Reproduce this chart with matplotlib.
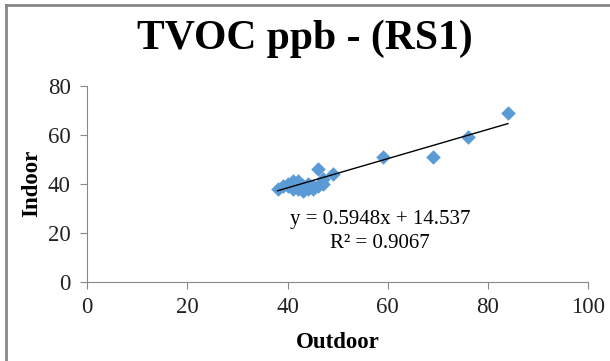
import matplotlib.pyplot as plt
from matplotlib.lines import Line2D

outdoor = [38, 39, 40, 40, 41, 41, 41, 42, 42, 42, 43, 43, 44, 44, 45, 45,
           46, 46, 47, 47, 49, 59, 69, 76, 84]
indoor = [38, 39, 39, 40, 40, 41, 38, 38, 40, 41, 37, 39, 38, 40, 38, 39,
          39, 46, 40, 42, 44, 51, 51, 59, 69]

# trendline as given in the chart label
slope = 0.5948
intercept = 14.537
eq_text = "y = 0.5948x + 14.537"
r2_text = "R² = 0.9067"

x_ticks = [0, 20, 40, 60, 80, 100]
y_ticks = [0, 20, 40, 60, 80]

plt.rcParams["font.family"] = ["Liberation Serif", "DejaVu Serif"]

fig = plt.figure(figsize=(6.1, 3.61), dpi=100)
ax = fig.add_axes([0.143, 0.219, 0.821, 0.544])

ax.scatter(outdoor, indoor, marker="D", s=55, color="#5B9BD5", zorder=3,
           linewidths=0)
x0, x1 = min(outdoor), max(outdoor)
ax.plot([x0, x1], [slope * x0 + intercept, slope * x1 + intercept],
        color="black", lw=1, zorder=4)

ax.set_xlim(0, 100)
ax.set_ylim(0, 80)
ax.set_xticks(x_ticks)
ax.set_yticks(y_ticks)
for s in ["top", "right"]:
    ax.spines[s].set_visible(False)
for s in ["left", "bottom"]:
    ax.spines[s].set_color("#888888")
ax.tick_params(colors="#888888", labelcolor="#222222", labelsize=16.5,
               direction="out", length=5)
ax.tick_params(axis="x", pad=6)
ax.tick_params(axis="y", pad=7)

ax.set_xlabel("Outdoor", fontsize=16.5, fontweight="bold", labelpad=10)
ax.set_ylabel("Indoor", fontsize=16.5, fontweight="bold", labelpad=4)
fig.text(0.5, 0.893, "TVOC ppb - (RS1)", ha="center", va="center",
         fontsize=30, fontweight="bold")

ax.text(58.5, 25.5, eq_text, ha="center", va="center", fontsize=15)
ax.text(58.5, 15.5, r2_text, ha="center", va="center", fontsize=15)

# gray outer frame (top and left visible)
fig.add_artist(Line2D([5.5 / 610, 1], [1 - 4.5 / 361, 1 - 4.5 / 361],
                      transform=fig.transFigure, color="#888888", lw=2))
fig.add_artist(Line2D([5.5 / 610, 5.5 / 610], [0, 1 - 4.5 / 361],
                      transform=fig.transFigure, color="#888888", lw=2))

fig.savefig("out.png", dpi=100)
